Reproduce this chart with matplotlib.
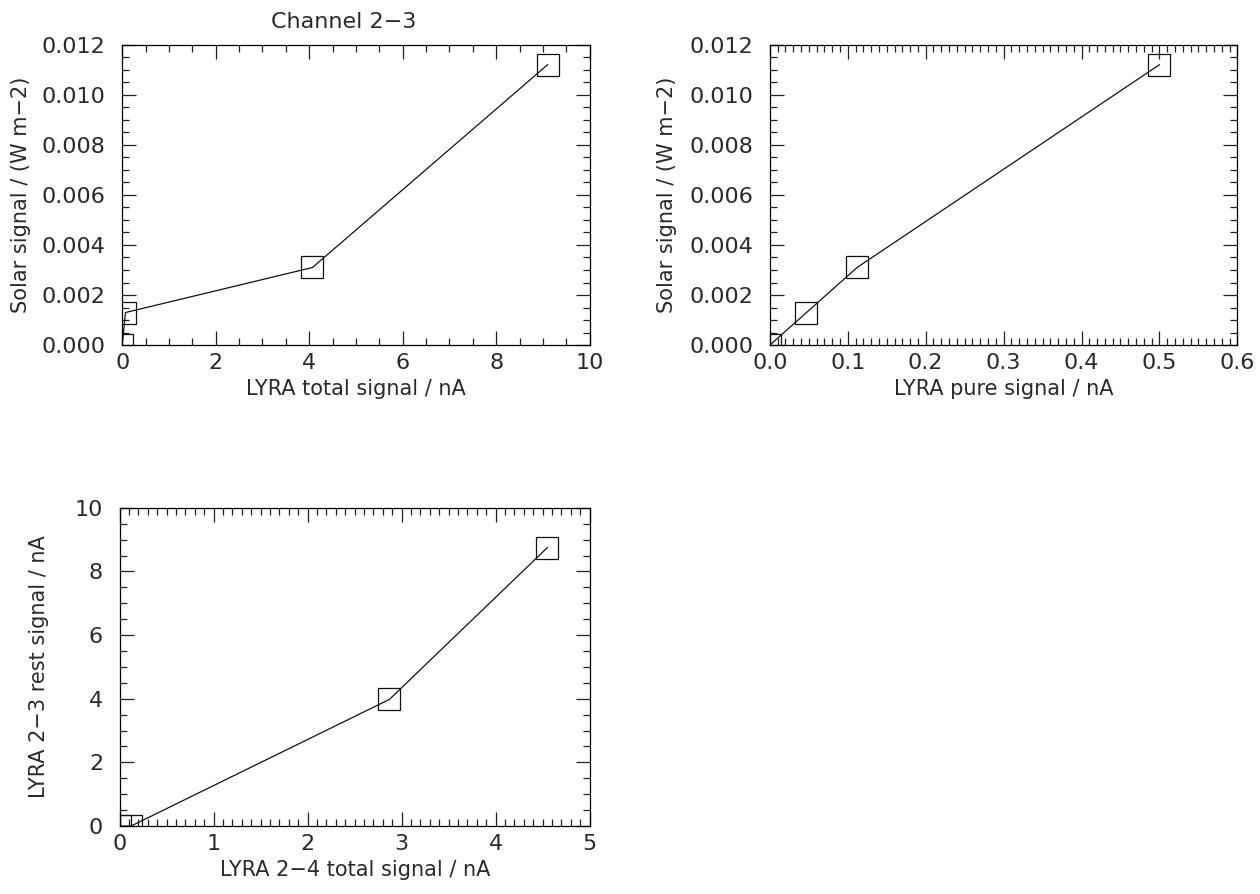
import matplotlib
matplotlib.use("Agg")
import matplotlib.pyplot as plt
from matplotlib.ticker import MultipleLocator, FormatStrFormatter

# Channel 2-3 data
total_signal = [0.0, 0.07, 4.07, 9.1]
pure_signal = [0.0, 0.047, 0.112, 0.50]
solar_signal = [0.0, 0.0013, 0.0031, 0.0112]

ch24_total = [0.0, 0.12, 2.87, 4.55]
ch23_rest = [0.0, 0.0, 3.98, 8.75]

plt.rcParams['font.family'] = ['DejaVu Sans']
plt.rcParams['font.size'] = 15
TXT = '#2a2a2a'


def idl_axes(ax, xmaj, xmin, ymaj, ymin):
    # IDL-like frame: inward ticks on all four sides
    ax.xaxis.set_major_locator(MultipleLocator(xmaj))
    ax.xaxis.set_minor_locator(MultipleLocator(xmin))
    ax.yaxis.set_major_locator(MultipleLocator(ymaj))
    ax.yaxis.set_minor_locator(MultipleLocator(ymin))
    ax.tick_params(which='both', direction='in', top=True, right=True,
                   width=0.9, labelsize=16, colors='#222222', labelcolor=TXT)
    ax.tick_params(which='major', length=10)
    ax.tick_params(which='minor', length=5)
    ax.tick_params(axis='x', which='major', pad=6)
    ax.tick_params(axis='y', which='major', pad=12)
    for s in ax.spines.values():
        s.set_linewidth(0.9)


def draw(ax, x, y):
    ax.plot(x, y, color='#111111', lw=0.9, marker='s', markersize=16,
            markerfacecolor='none', markeredgecolor='#111111', markeredgewidth=0.9)


fig = plt.figure(figsize=(12.6, 8.94), dpi=100)

# panel 1
ax1 = fig.add_axes([0.097, 0.614, 0.371, 0.336])
draw(ax1, total_signal, solar_signal)
ax1.set_xlim(0, 10)
ax1.set_ylim(0, 0.012)
idl_axes(ax1, 2, 0.5, 0.002, 0.0005)
ax1.yaxis.set_major_formatter(FormatStrFormatter('%.3f'))
ax1.set_xlabel('LYRA total signal / nA', color=TXT)
ax1.set_ylabel('Solar signal / (W m\u22122)', color=TXT)
ax1.yaxis.set_label_coords(-0.195, 0.5)
fig.text(344 / 1260, 1 - 22 / 894, 'Channel 2\u22123', ha='center', va='center',
         fontsize=16, color=TXT)

# panel 2
ax2 = fig.add_axes([0.611, 0.614, 0.371, 0.336])
draw(ax2, pure_signal, solar_signal)
ax2.set_xlim(0, 0.6)
ax2.set_ylim(0, 0.012)
idl_axes(ax2, 0.1, 0.01, 0.002, 0.0005)
ax2.xaxis.set_major_formatter(FormatStrFormatter('%.1f'))
ax2.yaxis.set_major_formatter(FormatStrFormatter('%.3f'))
ax2.set_xlabel('LYRA pure signal / nA', color=TXT)
ax2.set_ylabel('Solar signal / (W m\u22122)', color=TXT)
ax2.yaxis.set_label_coords(-0.199, 0.5)

# panel 3
ax3 = fig.add_axes([0.095, 0.076, 0.373, 0.356])
draw(ax3, ch24_total, ch23_rest)
ax3.set_xlim(0, 5)
ax3.set_ylim(0, 10)
idl_axes(ax3, 1, 0.1, 2, 0.5)
ax3.set_xlabel('LYRA 2\u22124 total signal / nA', color=TXT)
ax3.set_ylabel('LYRA 2\u22123 rest signal / nA', color=TXT)
ax3.yaxis.set_label_coords(-0.151, 0.5)

fig.savefig('out.png', dpi=100)
